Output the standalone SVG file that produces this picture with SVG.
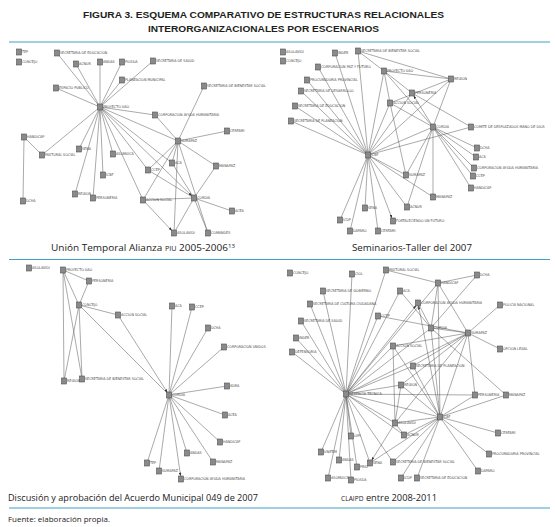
<svg xmlns="http://www.w3.org/2000/svg" width="555" height="527" viewBox="0 0 555 527">
<defs>
<marker id="a" viewBox="0 0 3.5 2.6" refX="6.5" refY="1.3" markerWidth="3.5" markerHeight="2.6" markerUnits="userSpaceOnUse" orient="auto"><path d="M0,0L3.5,1.3L0,2.6z" fill="#333"/></marker>
</defs>
<style>
.bg{fill:#ffffff}
.rule{stroke:#3ea0c6;stroke-width:1}
.title{font-family:"Liberation Sans",Arial,sans-serif;font-weight:bold;font-size:9.8px;fill:#231f20}
.cap{font-family:"Open Sans","Liberation Sans",sans-serif;font-size:9.8px;fill:#1a1a1a}
.foot{font-family:"Open Sans","Liberation Sans",sans-serif;font-size:7px;fill:#1a1a1a}
.e path{stroke:#555;stroke-width:0.5;fill:none;marker-end:url(#a)}
.n rect{fill:#8a8a8a;stroke:#505050;stroke-width:0.6}
.n text{font-family:"DejaVu Sans Condensed","Liberation Sans Narrow","Liberation Sans",sans-serif;font-size:3.7px;fill:#444}
</style>
<rect class="bg" x="0" y="0" width="555" height="527"/>
<text class="title" x="83" y="18" textLength="361" lengthAdjust="spacingAndGlyphs">FIGURA 3. ESQUEMA COMPARATIVO DE ESTRUCTURAS RELACIONALES</text>
<text class="title" x="148" y="32" textLength="231" lengthAdjust="spacingAndGlyphs">INTERORGANIZACIONALES POR ESCENARIOS</text>
<g id="rules">
<line class="rule" x1="9" y1="42" x2="550" y2="42"/>
<line class="rule" x1="9" y1="259.5" x2="550" y2="259.5"/>
<line class="rule" x1="9" y1="508" x2="550" y2="508"/>
</g>
<g id="captions">
<text class="cap" x="51" y="251" textLength="184" lengthAdjust="spacingAndGlyphs">Unión Temporal Alianza <tspan font-size="7">PIU</tspan> 2005-2006<tspan font-size="6" dy="-3.5">13</tspan></text>
<text class="cap" x="352" y="251" textLength="120" lengthAdjust="spacingAndGlyphs">Seminarios-Taller del 2007</text>
<text class="cap" x="8" y="501" textLength="250" lengthAdjust="spacingAndGlyphs">Discusión y aprobación del Acuerdo Municipal 049 de 2007</text>
<text class="cap" x="341" y="501" textLength="96" lengthAdjust="spacingAndGlyphs"><tspan font-size="7">CLAIPD</tspan> entre 2008-2011</text>
<text class="foot" x="8" y="522" textLength="102" lengthAdjust="spacingAndGlyphs">Fuente: elaboración propia.</text>
</g>
<g id="connectors" class="e">
<path d="M100 107L57 53M100 107L76 64M100 107L100 62M100 107L122 62M100 107L122 80M100 107L153 61M100 107L56 88M100 107L42 155M100 107L79 149M100 107L113 154M100 107L103 175M100 107L75 194M100 107L93 198M100 107L155 115M100 107L178 141M100 107L172 163M100 107L148 170M100 107L143 200M100 107L194 198"/>
<path d="M24 137L42 155M24 137L23 201M178 141L204 86M178 141L227 131M178 141L216 166M155 115L178 141M178 141L172 163M178 141L148 170M178 141L143 200M178 141L174 233M178 141L208 233M194 198L216 166M194 198L232 211M194 198L208 233M194 198L174 233M194 198L148 170M194 198L172 163M194 198L143 200M143 200L174 233"/>
<path d="M368 155L335 53M368 155L358 51M368 155L318 67M368 155L307 80M368 155L301 91M368 155L295 106M368 155L291 121M368 155L384 71M368 155L390 103M368 155L412 93M368 155L451 79M368 155L433 127M368 155L471 127M368 155L406 175M368 155L433 197M368 155L365 208M368 155L407 207M368 155L340 220M368 155L350 231M368 155L378 231M368 155L393 221"/>
<path d="M358 51L384 71M358 51L451 79M384 71L412 93M384 71L390 103M384 71L451 79M384 71L433 127M412 93L471 127M390 103L451 79M390 103L433 127M390 103L406 175M433 127L451 79M433 127L477 148M433 127L476 157M433 127L474 168M433 127L473 176M433 127L471 188M433 127L433 197M433 127L406 175M433 127L407 207M433 127L412 93"/>
<path d="M63 270L89 281M63 270L79 305M63 270L64 381M63 270L82 379M79 305L89 281M79 305L64 381M79 305L82 379M79 305L118 315M169 395L79 305M118 315L169 395"/>
<path d="M169 395L172 306M169 395L192 307M169 395L208 328M169 395L224 347M169 395L227 386M169 395L225 415M169 395L220 442M169 395L187 453M169 395L213 462M169 395L147 463M169 395L159 471M169 395L181 479"/>
<path d="M346 394L352 274M346 394L386 270M346 394L323 291M346 394L400 291M346 394L310 304M346 394L378 316M346 394L301 321M346 394L296 338M346 394L292 352M346 394L393 346M346 394L413 366M346 394L401 385M346 394L431 328M346 394L468 333M346 394L475 395M346 394L440 417M346 394L395 423M346 394L404 435M346 394L351 436M346 394L321 452M346 394L339 460M346 394L370 463M346 394L357 467M346 394L393 462M346 394L328 478M346 394L351 480M346 394L438 283M346 394L418 303"/>
<path d="M440 417L431 328M440 417L468 333M440 417L475 395M440 417L506 395M440 417L498 433M440 417L489 454M440 417L478 471M440 417L417 478M440 417L401 478M440 417L393 462M440 417L370 463M440 417L395 423M440 417L404 435M440 417L401 385M440 417L393 346M440 417L413 366M440 417L438 283M440 417L418 303"/>
<path d="M438 283L477 275M386 270L438 283M431 328L438 283M431 328L418 303M400 291L431 328M431 328L468 333M431 328L506 395M431 328L477 275M468 333L500 305M468 333L500 349M468 333L475 395M468 333L438 283M378 316L468 333M413 366L468 333M401 385L468 333M393 346L468 333M395 423L468 333M395 423L393 346M395 423L401 385M395 423L404 435M395 423L370 463"/>
</g>
<g id="nodes-tl" class="n">
<g id="tl-tep"><rect x="16.5" y="49" width="5" height="6"/><text x="22" y="53.4">TEP</text></g>
<g id="tl-concejo"><rect x="16.5" y="59" width="5" height="6"/><text x="22" y="63.4">CONCEJO</text></g>
<g id="tl-sed"><rect x="54.5" y="50" width="5" height="6"/><text x="60" y="54.4">SECRETARIA DE EDUCACION</text></g>
<g id="tl-acnur"><rect x="73.5" y="61" width="5" height="6"/><text x="79" y="65.4">ACNUR</text></g>
<g id="tl-andas"><rect x="97.5" y="59" width="5" height="6"/><text x="103" y="63.4">ANDAS</text></g>
<g id="tl-piosda"><rect x="119.5" y="59" width="5" height="6"/><text x="125" y="63.4">PIOSDA</text></g>
<g id="tl-planeacion"><rect x="119.5" y="77" width="5" height="6"/><text x="125" y="81.4">PLANEACION MUNICIPAL</text></g>
<g id="tl-ssalud"><rect x="150.5" y="58" width="5" height="6"/><text x="156" y="62.4">SECRETARIA DE SALUD</text></g>
<g id="tl-espacio"><rect x="53.5" y="85" width="5" height="6"/><text x="59" y="89.4">ESPACIO PUBLICO</text></g>
<g id="tl-proyecto"><rect x="97.5" y="104" width="5" height="6"/><text x="103" y="108.4">PROYECTO UAO</text></g>
<g id="tl-sbs"><rect x="201.5" y="83" width="5" height="6"/><text x="207" y="87.4">SECRETARIA DE BIENESTAR SOCIAL</text></g>
<g id="tl-corp"><rect x="152.5" y="112" width="5" height="6"/><text x="158" y="116.4">CORPORACION AYUDA HUMANITARIA</text></g>
<g id="tl-cerfami"><rect x="224.5" y="128" width="5" height="6"/><text x="230" y="132.4">CERFAMI</text></g>
<g id="tl-sumapaz"><rect x="175.5" y="138" width="5" height="6"/><text x="181" y="142.4">SUMAPAZ</text></g>
<g id="tl-handicap"><rect x="21.5" y="134" width="5" height="6"/><text x="27" y="138.4">HANDICAP</text></g>
<g id="tl-pastoral"><rect x="39.5" y="152" width="5" height="6"/><text x="45" y="156.4">PASTORAL SOCIAL</text></g>
<g id="tl-sena"><rect x="76.5" y="146" width="5" height="6"/><text x="82" y="150.4">SENA</text></g>
<g id="tl-asomuica"><rect x="110.5" y="151" width="5" height="6"/><text x="116" y="155.4">ASOMUICA</text></g>
<g id="tl-aca"><rect x="169.5" y="160" width="5" height="6"/><text x="175" y="164.4">ACA</text></g>
<g id="tl-ccep"><rect x="145.5" y="167" width="5" height="6"/><text x="151" y="171.4">CCEP</text></g>
<g id="tl-manapaz"><rect x="213.5" y="163" width="5" height="6"/><text x="219" y="167.4">MANAPAZ</text></g>
<g id="tl-icbf"><rect x="100.5" y="172" width="5" height="6"/><text x="106" y="176.4">ICBF</text></g>
<g id="tl-region"><rect x="72.5" y="191" width="5" height="6"/><text x="78" y="195.4">REGION</text></g>
<g id="tl-personeria"><rect x="90.5" y="195" width="5" height="6"/><text x="96" y="199.4">PERSONERIA</text></g>
<g id="tl-dcha"><rect x="20.5" y="198" width="5" height="6"/><text x="26" y="202.4">DCHA</text></g>
<g id="tl-accion"><rect x="140.5" y="197" width="5" height="6"/><text x="146" y="201.4">ACCION SOCIAL</text></g>
<g id="tl-cordia"><rect x="191.5" y="195" width="5" height="6"/><text x="197" y="199.4">CORDIA</text></g>
<g id="tl-acea"><rect x="229.5" y="208" width="5" height="6"/><text x="235" y="212.4">ACEA</text></g>
<g id="tl-asolavidi"><rect x="171.5" y="230" width="5" height="6"/><text x="177" y="234.4">ASOLAVIDI</text></g>
<g id="tl-comandes"><rect x="205.5" y="230" width="5" height="6"/><text x="211" y="234.4">COMANDES</text></g>
</g>
<g id="nodes-tr" class="n">
<g id="tr-asolavidi"><rect x="280.5" y="49" width="5" height="6"/><text x="286" y="53.4">ASOLAVIDI</text></g>
<g id="tr-concejo"><rect x="280.5" y="58" width="5" height="6"/><text x="286" y="62.4">CONCEJO</text></g>
<g id="tr-inder"><rect x="332.5" y="50" width="5" height="6"/><text x="338" y="54.4">INDER</text></g>
<g id="tr-sbs"><rect x="355.5" y="48" width="5" height="6"/><text x="361" y="52.4">SECRETARIA DE BIENESTAR SOCIAL</text></g>
<g id="tr-corppaz"><rect x="315.5" y="64" width="5" height="6"/><text x="321" y="68.4">CORPORACION PAZ Y FUTURO</text></g>
<g id="tr-proyecto"><rect x="381.5" y="68" width="5" height="6"/><text x="387" y="72.4">PROYECTO UAO</text></g>
<g id="tr-procuraduria"><rect x="304.5" y="77" width="5" height="6"/><text x="310" y="81.4">PROCURADURIA PROVINCIAL</text></g>
<g id="tr-sdesarrollo"><rect x="298.5" y="88" width="5" height="6"/><text x="304" y="92.4">SECRETARIA DE DESARROLLO</text></g>
<g id="tr-personeria"><rect x="409.5" y="90" width="5" height="6"/><text x="415" y="94.4">PERSONERIA</text></g>
<g id="tr-accion"><rect x="387.5" y="100" width="5" height="6"/><text x="393" y="104.4">ACCION SOCIAL</text></g>
<g id="tr-sed"><rect x="292.5" y="103" width="5" height="6"/><text x="298" y="107.4">SECRETARIA DE EDUCACION</text></g>
<g id="tr-splaneacion"><rect x="288.5" y="118" width="5" height="6"/><text x="294" y="122.4">SECRETARIA DE PLANEACION</text></g>
<g id="tr-region"><rect x="448.5" y="76" width="5" height="6"/><text x="454" y="80.4">REGION</text></g>
<g id="tr-icbf"><rect x="365.5" y="152" width="5" height="6"/><text x="371" y="156.4">ICBF</text></g>
<g id="tr-cordia"><rect x="430.5" y="124" width="5" height="6"/><text x="436" y="128.4">CORDIA</text></g>
<g id="tr-comite"><rect x="468.5" y="124" width="5" height="6"/><text x="474" y="128.4">COMITE DE DESPLAZADOS MANO DE DIOS</text></g>
<g id="tr-dcha"><rect x="474.5" y="145" width="5" height="6"/><text x="480" y="149.4">DCHA</text></g>
<g id="tr-aca"><rect x="473.5" y="154" width="5" height="6"/><text x="479" y="158.4">ACA</text></g>
<g id="tr-corp"><rect x="471.5" y="165" width="5" height="6"/><text x="477" y="169.4">CORPORACION AYUDA HUMANITARIA</text></g>
<g id="tr-ccep"><rect x="470.5" y="173" width="5" height="6"/><text x="476" y="177.4">CCEP</text></g>
<g id="tr-handicap"><rect x="468.5" y="185" width="5" height="6"/><text x="474" y="189.4">HANDICAP</text></g>
<g id="tr-sumapaz"><rect x="403.5" y="172" width="5" height="6"/><text x="409" y="176.4">SUMAPAZ</text></g>
<g id="tr-manapaz"><rect x="430.5" y="194" width="5" height="6"/><text x="436" y="198.4">MANAPAZ</text></g>
<g id="tr-sena"><rect x="362.5" y="205" width="5" height="6"/><text x="368" y="209.4">SENA</text></g>
<g id="tr-acnur"><rect x="404.5" y="204" width="5" height="6"/><text x="410" y="208.4">ACNUR</text></g>
<g id="tr-icdp"><rect x="337.5" y="217" width="5" height="6"/><text x="343" y="221.4">ICDP</text></g>
<g id="tr-fortaleciendo"><rect x="390.5" y="218" width="5" height="6"/><text x="396" y="222.4">FORTALECIENDO UN FUTURO</text></g>
<g id="tr-daparo"><rect x="347.5" y="228" width="5" height="6"/><text x="353" y="232.4">DAPARO</text></g>
<g id="tr-cerfami"><rect x="375.5" y="228" width="5" height="6"/><text x="381" y="232.4">CERFAMI</text></g>
</g>
<g id="nodes-bl" class="n">
<g id="bl-asolavidi"><rect x="26.5" y="265" width="5" height="6"/><text x="32" y="269.4">ASOLAVIDI</text></g>
<g id="bl-proyecto"><rect x="60.5" y="267" width="5" height="6"/><text x="66" y="271.4">PROYECTO UAO</text></g>
<g id="bl-personeria"><rect x="86.5" y="278" width="5" height="6"/><text x="92" y="282.4">PERSONERIA</text></g>
<g id="bl-concejo"><rect x="76.5" y="302" width="5" height="6"/><text x="82" y="306.4">CONCEJO</text></g>
<g id="bl-accion"><rect x="115.5" y="312" width="5" height="6"/><text x="121" y="316.4">ACCION SOCIAL</text></g>
<g id="bl-region"><rect x="61.5" y="378" width="5" height="6"/><text x="67" y="382.4">REGION</text></g>
<g id="bl-sbs"><rect x="79.5" y="376" width="5" height="6"/><text x="85" y="380.4">SECRETARIA DE BIENESTAR SOCIAL</text></g>
<g id="bl-aca"><rect x="169.5" y="303" width="5" height="6"/><text x="175" y="307.4">ACA</text></g>
<g id="bl-ccep"><rect x="189.5" y="304" width="5" height="6"/><text x="195" y="308.4">CCEP</text></g>
<g id="bl-dcha"><rect x="205.5" y="325" width="5" height="6"/><text x="211" y="329.4">DCHA</text></g>
<g id="bl-corpunidos"><rect x="221.5" y="344" width="5" height="6"/><text x="227" y="348.4">CORPORACION UNIDOS</text></g>
<g id="bl-cordia"><rect x="166.5" y="392" width="5" height="6"/><text x="172" y="396.4">CORDIA</text></g>
<g id="bl-adra"><rect x="224.5" y="383" width="5" height="6"/><text x="230" y="387.4">ADRA</text></g>
<g id="bl-acea"><rect x="222.5" y="412" width="5" height="6"/><text x="228" y="416.4">ACEA</text></g>
<g id="bl-handicap"><rect x="217.5" y="439" width="5" height="6"/><text x="223" y="443.4">HANDICAP</text></g>
<g id="bl-andas"><rect x="184.5" y="450" width="5" height="6"/><text x="190" y="454.4">ANDAS</text></g>
<g id="bl-manapaz"><rect x="210.5" y="459" width="5" height="6"/><text x="216" y="463.4">MANAPAZ</text></g>
<g id="bl-tep"><rect x="144.5" y="460" width="5" height="6"/><text x="150" y="464.4">TEP</text></g>
<g id="bl-sumapaz"><rect x="156.5" y="468" width="5" height="6"/><text x="162" y="472.4">SUMAPAZ</text></g>
<g id="bl-corp"><rect x="178.5" y="476" width="5" height="6"/><text x="184" y="480.4">CORPORACION AYUDA HUMANITARIA</text></g>
</g>
<g id="nodes-br" class="n">
<g id="br-concejo"><rect x="287.5" y="270" width="5" height="6"/><text x="293" y="274.4">CONCEJO</text></g>
<g id="br-ciol"><rect x="349.5" y="271" width="5" height="6"/><text x="355" y="275.4">CIOL</text></g>
<g id="br-pastoral"><rect x="383.5" y="267" width="5" height="6"/><text x="389" y="271.4">PASTORAL SOCIAL</text></g>
<g id="br-sgob"><rect x="320.5" y="288" width="5" height="6"/><text x="326" y="292.4">SECRETARIA DE GOBIERNO</text></g>
<g id="br-aca"><rect x="397.5" y="288" width="5" height="6"/><text x="403" y="292.4">ACA</text></g>
<g id="br-scultura"><rect x="307.5" y="301" width="5" height="6"/><text x="313" y="305.4">SECRETARIA DE CULTURA CIUDADANA</text></g>
<g id="br-ccep"><rect x="375.5" y="313" width="5" height="6"/><text x="381" y="317.4">CCEP</text></g>
<g id="br-ssalud"><rect x="298.5" y="318" width="5" height="6"/><text x="304" y="322.4">SECRETARIA DE SALUD</text></g>
<g id="br-inder"><rect x="293.5" y="335" width="5" height="6"/><text x="299" y="339.4">INDER</text></g>
<g id="br-defensoria"><rect x="289.5" y="349" width="5" height="6"/><text x="295" y="353.4">DEFENSORIA</text></g>
<g id="br-accion"><rect x="390.5" y="343" width="5" height="6"/><text x="396" y="347.4">ACCION SOCIAL</text></g>
<g id="br-splaneacion"><rect x="410.5" y="363" width="5" height="6"/><text x="416" y="367.4">SECRETARIA DE PLANEACION</text></g>
<g id="br-region"><rect x="398.5" y="382" width="5" height="6"/><text x="404" y="386.4">REGION</text></g>
<g id="br-gerencia"><rect x="343.5" y="391" width="5" height="6"/><text x="349" y="395.4">GERENCIA TECNICA</text></g>
<g id="br-asolavidi"><rect x="392.5" y="420" width="5" height="6"/><text x="398" y="424.4">ASOLAVIDI</text></g>
<g id="br-acnur"><rect x="401.5" y="432" width="5" height="6"/><text x="407" y="436.4">ACNUR</text></g>
<g id="br-oipi"><rect x="348.5" y="433" width="5" height="6"/><text x="354" y="437.4">OIPI</text></g>
<g id="br-unifem"><rect x="318.5" y="449" width="5" height="6"/><text x="324" y="453.4">UNIFEM</text></g>
<g id="br-andas"><rect x="336.5" y="457" width="5" height="6"/><text x="342" y="461.4">ANDAS</text></g>
<g id="br-sena"><rect x="367.5" y="460" width="5" height="6"/><text x="373" y="464.4">SENA</text></g>
<g id="br-prid"><rect x="354.5" y="464" width="5" height="6"/><text x="360" y="468.4">PRID</text></g>
<g id="br-sbs"><rect x="390.5" y="459" width="5" height="6"/><text x="396" y="463.4">SECRETARIA DE BIENESTAR SOCIAL</text></g>
<g id="br-asomuica"><rect x="325.5" y="475" width="5" height="6"/><text x="331" y="479.4">ASOMUICA</text></g>
<g id="br-piosda"><rect x="348.5" y="477" width="5" height="6"/><text x="354" y="481.4">PIOSDA</text></g>
<g id="br-icdp"><rect x="398.5" y="475" width="5" height="6"/><text x="404" y="479.4">ICDP</text></g>
<g id="br-sed"><rect x="414.5" y="475" width="5" height="6"/><text x="420" y="479.4">SECRETARIA DE EDUCACION</text></g>
<g id="br-handicap"><rect x="435.5" y="280" width="5" height="6"/><text x="441" y="284.4">HANDICAP</text></g>
<g id="br-dcha"><rect x="474.5" y="272" width="5" height="6"/><text x="480" y="276.4">DCHA</text></g>
<g id="br-corp"><rect x="415.5" y="300" width="5" height="6"/><text x="421" y="304.4">CORPORACION AYUDA HUMANITARIA</text></g>
<g id="br-policia"><rect x="497.5" y="302" width="5" height="6"/><text x="503" y="306.4">POLICIA NACIONAL</text></g>
<g id="br-cordia"><rect x="428.5" y="325" width="5" height="6"/><text x="434" y="329.4">CORDIA</text></g>
<g id="br-sumapaz"><rect x="465.5" y="330" width="5" height="6"/><text x="471" y="334.4">SUMAPAZ</text></g>
<g id="br-opcion"><rect x="497.5" y="346" width="5" height="6"/><text x="503" y="350.4">OPCION LEGAL</text></g>
<g id="br-personeria"><rect x="472.5" y="392" width="5" height="6"/><text x="478" y="396.4">PERSONERIA</text></g>
<g id="br-manapaz"><rect x="503.5" y="392" width="5" height="6"/><text x="509" y="396.4">MANAPAZ</text></g>
<g id="br-icbf"><rect x="437.5" y="414" width="5" height="6"/><text x="443" y="418.4">ICBF</text></g>
<g id="br-cerfami"><rect x="495.5" y="430" width="5" height="6"/><text x="501" y="434.4">CERFAMI</text></g>
<g id="br-procuraduria"><rect x="486.5" y="451" width="5" height="6"/><text x="492" y="455.4">PROCURADURIA PROVINCIAL</text></g>
<g id="br-daparo"><rect x="475.5" y="468" width="5" height="6"/><text x="481" y="472.4">DAPARO</text></g>
</g>
</svg>
